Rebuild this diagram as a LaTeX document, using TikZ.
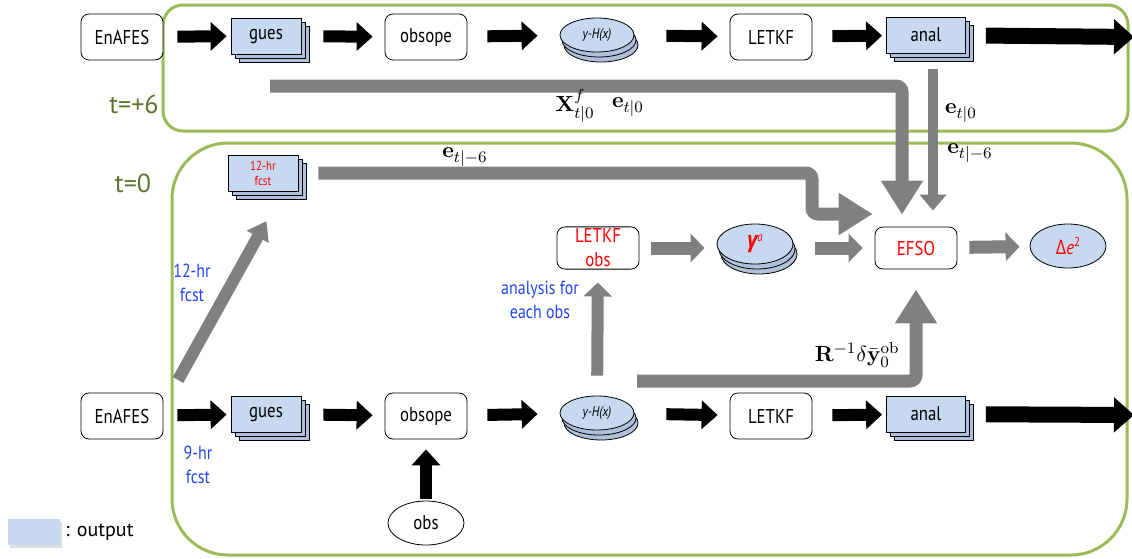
\documentclass[tikz,border=0pt]{standalone}
\usepackage[no-math]{fontspec}
\setmainfont{PT Sans}
\newfontfamily\narrowfont[FakeStretch=0.84]{PT Sans}
\newfontfamily\greekfont[FakeStretch=0.9]{Open Sans}
\usetikzlibrary{arrows.meta,shapes.geometric,shadows}
\definecolor{PanelGreen}{HTML}{9BBB59}
\definecolor{StepOlive}{HTML}{5A7530}
\definecolor{OutBlue}{HTML}{C6D9F1}
\definecolor{StackBlue}{HTML}{AEC0DA}
\definecolor{NoteBlue}{HTML}{2244F2}
\definecolor{FlowGray}{HTML}{808080}
\tikzset{
  panel/.style={draw=PanelGreen,line width=1.5pt},
  steplabel/.style={text=StepOlive,font=\fontsize{13}{15}\selectfont},
  proc/.style={draw,rounded corners=4pt,fill=white,align=center,minimum width=41pt,minimum height=23pt,inner sep=1pt,font=\narrowfont\fontsize{10}{11}\selectfont},
  outstack/.style={draw,fill=OutBlue,align=center,minimum width=35pt,minimum height=18pt,inner sep=1pt,font=\narrowfont\fontsize{10}{11}\selectfont,
    copy shadow={shadow xshift=4pt,shadow yshift=-4pt,fill=StackBlue,draw=black},
    copy shadow={shadow xshift=2pt,shadow yshift=-2pt,fill=StackBlue,draw=black}},
  ellstack/.style={ellipse,draw,fill=OutBlue,minimum width=37pt,minimum height=17pt,inner sep=0pt,
    copy shadow={shadow xshift=2pt,shadow yshift=-5pt,fill=StackBlue,draw=black},
    copy shadow={shadow xshift=1pt,shadow yshift=-2.5pt,fill=StackBlue,draw=black}},
  oval/.style={ellipse,draw,minimum width=38pt,minimum height=22pt,inner sep=0pt,font=\narrowfont\fontsize{10}{11}\selectfont},
  note/.style={align=center,text=NoteBlue,font=\narrowfont\fontsize{9.5}{12}\selectfont},
  mathlab/.style={inner sep=1pt,font=\fontsize{11}{13}\selectfont},
  blk/.style={-{Triangle[length=8pt,width=14pt]},line width=6pt,shorten <=10pt,shorten >=5pt},
  gry/.style={draw=FlowGray,line width=6.5pt,rounded corners=3pt},
  smalltip/.style={-{Triangle[length=7pt,width=14pt]}},
  bigtip/.style={-{Triangle[length=17pt,width=20pt]}}
}

\begin{document}
\begin{tikzpicture}[x=0.5pt,y=-0.5pt]
  \useasboundingbox (0,0) rectangle (1132,558);

  % the two time levels
  \draw[panel,rounded corners=10pt] (163,5) rectangle (1128,131);
  \draw[panel,rounded corners=28pt] (172,143) rectangle (1127,555);
  \node[steplabel] (tsix) at (134,104) {t=+6};
  \node[steplabel] (tzero) at (133,183) {t=0};

  % cycle at t=+6
  \node[proc] (enafesA) at (122,37) {EnAFES};
  \node[outstack] (guesA) at (266,36) {gues};
  \node[proc] (obsopeA) at (426,37) {obsope};
  \node[ellstack,font=\narrowfont\itshape\fontsize{7}{8}\selectfont] (yhxA) at (597,35) {y-H(x)};
  \node[proc] (letkfA) at (771,37) {LETKF};
  \node[outstack,minimum width=39.5pt] (analA) at (926,35) {anal};
  \coordinate (outA) at (1134,37);

  % cycle at t=0
  \node[proc] (enafesB) at (122,416) {EnAFES};
  \node[outstack] (guesB) at (266,414) {gues};
  \node[proc] (obsopeB) at (426,416) {obsope};
  \node[ellstack,font=\narrowfont\itshape\fontsize{7}{8}\selectfont] (yhxB) at (597,413) {y-H(x)};
  \node[proc] (letkfB) at (771,416) {LETKF};
  \node[outstack,minimum width=39.5pt] (analB) at (926,414) {anal};
  \coordinate (outB) at (1134,415);
  \node[oval] (obs) at (426,523) {obs};

  % EFSO part
  \node[outstack,text=red,font=\narrowfont\fontsize{6.5}{7.5}\selectfont] (fcst12) at (263,173) {12-hr\\fcst};
  \node[proc,text=red,minimum height=21pt,font=\narrowfont\fontsize{10}{12}\selectfont] (letkfobs) at (598,248) {LETKF\\obs};
  \node[ellstack,minimum width=38pt,minimum height=20pt,text=red] (gamma) at (755,244)
    {{\greekfont\bfseries\itshape\fontsize{11}{12}\selectfont γ}\raisebox{3pt}{\narrowfont\itshape\fontsize{6.5}{7}\selectfont a}};
  \node[proc,text=red,minimum height=21pt] (efso) at (916,248) {EFSO};
  \node[oval,fill=OutBlue,text=red] (dee) at (1068,246)
    {{\greekfont\fontsize{10}{11}\selectfont Δ}{\itshape e}\raisebox{4pt}{\fontsize{6.5}{7}\selectfont 2}};

  % legend
  \node[fill=OutBlue,minimum width=26pt,minimum height=13pt,inner sep=0pt,drop shadow={shadow xshift=1pt,shadow yshift=-1.5pt,opacity=.25}] (legbox) at (34,532) {};
  \node[anchor=west,inner sep=1pt,font=\fontsize{10}{12}\selectfont] (legtext) at (63,532) {: output};

  % black flow of each cycle
  \draw[blk,shorten <=7pt,shorten >=2pt] (enafesA) -- (guesA);
  \draw[blk,shorten <=11pt,shorten >=6pt] (guesA) -- (obsopeA);
  \draw[blk,shorten >=11pt] (obsopeA) -- (yhxA);
  \draw[blk,shorten <=16pt,shorten >=6pt] (yhxA) -- (letkfA);
  \draw[blk,shorten >=2pt] (letkfA) -- (analA);
  \draw[blk,line width=8pt,-{Triangle[length=10pt,width=17pt]},shorten >=0pt] (analA) -- (outA);

  \draw[blk,shorten <=7pt,shorten >=2pt] (enafesB) -- (guesB);
  \draw[blk,shorten <=11pt,shorten >=6pt] (guesB) -- (obsopeB);
  \draw[blk,shorten >=11pt] (obsopeB) -- (yhxB);
  \draw[blk,shorten <=16pt,shorten >=6pt] (yhxB) -- (letkfB);
  \draw[blk,shorten >=2pt] (letkfB) -- (analB);
  \draw[blk,line width=8pt,-{Triangle[length=10pt,width=17pt]},shorten >=0pt] (analB) -- (outB);
  \draw[blk,shorten <=1pt,shorten >=5pt] (obs) -- (obsopeB);

  % gray flow into EFSO
  \coordinate (xfstart) at (270,86);
  \draw[gry,bigtip,shorten >=6pt] (xfstart) -| ([xshift=-7pt]efso.north);
  \node[mathlab] (xflab) at (575,106) {$\mathbf{X}^f_{t|0}$};
  \node[mathlab] (etzA) at (628,107) {$\mathbf{e}_{t|0}$};

  \coordinate (analdrop) at ([xshift=3.5pt]analA.south);
  \draw[gry,line width=5pt,-{Triangle[length=8pt,width=13pt]},shorten <=8pt,shorten >=8pt] (analdrop) -- (analdrop |- efso.north);
  \node[mathlab] (etzB) at (961,113) {$\mathbf{e}_{t|0}$};
  \node[mathlab] (etsB) at (970,153) {$\mathbf{e}_{t|-6}$};

  \coordinate (fcstbend) at (812,214);
  \draw[gry,bigtip,shorten <=10pt,shorten >=1pt] (fcst12.east) -| (fcstbend) -- (fcstbend -| efso.west);
  \node[mathlab] (etsA) at (465,157) {$\mathbf{e}_{t|-6}$};

  \coordinate (diagstart) at (178,380);
  \draw[gry,line width=6pt,-{Triangle[length=9pt,width=12pt]},shorten >=17pt] (diagstart) -- ([xshift=10pt]fcst12.south);
  \node[note] (fcnote) at (192,283) {12-hr\\fcst};
  \node[note] (ninenote) at (198,465) {9-hr\\fcst};

  \draw[gry,smalltip,line width=6pt,shorten <=10pt,shorten >=6.5pt] (yhxB) -- (letkfobs);
  \node[note] (obsnote) at (540,300) {analysis for\\each obs};

  \coordinate (rstart) at (637,381);
  \draw[gry,bigtip,shorten >=10pt] (rstart) -| (efso.south);
  \node[mathlab,anchor=east] (rlab) at (902,355) {$\mathbf{R}^{-1}\delta\bar{\mathbf{y}}_0^{\mathrm{ob}}$};

  \draw[gry,smalltip,shorten <=6pt,shorten >=6pt] (letkfobs) -- (gamma.west |- letkfobs.east);
  \draw[gry,smalltip,shorten <=11pt,shorten >=6pt] (gamma.east |- efso.west) -- (efso);
  \draw[gry,smalltip,shorten <=6pt,shorten >=5pt] (efso) -- (dee);
\end{tikzpicture}
\end{document}
